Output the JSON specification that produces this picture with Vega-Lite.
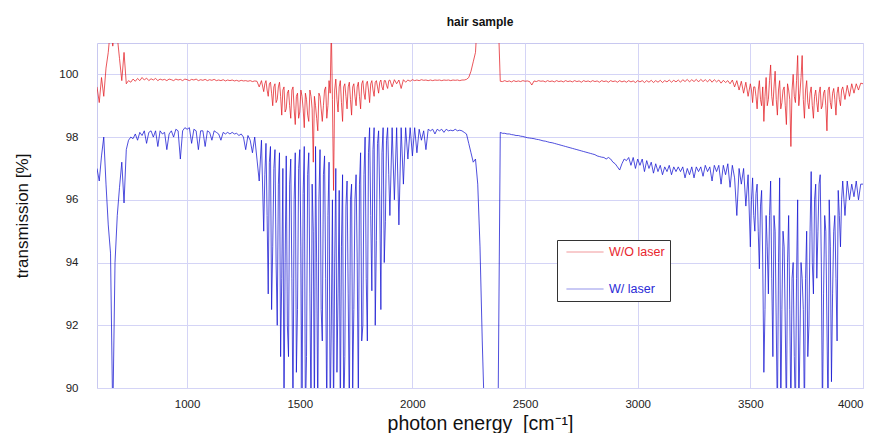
{
  "$schema": "https://vega.github.io/schema/vega-lite/v6.json",
  "autosize": {"type": "none"},
  "width": 766,
  "height": 345,
  "padding": {"left": 97, "top": 43, "right": 14, "bottom": 45},
  "background": "white",
  "title": {"text": "hair sample", "font": "Liberation Sans", "fontSize": 12, "fontWeight": "bold", "color": "#111", "anchor": "middle", "offset": 14},
  "data": {"values": [
{"x":600,"W/O laser":99.6,"W/ laser":97.0},
{"x":610,"W/O laser":99.1,"W/ laser":96.6},
{"x":620,"W/O laser":99.9,"W/ laser":97.4},
{"x":630,"W/O laser":99.3,"W/ laser":98.0},
{"x":640,"W/O laser":100.2,"W/ laser":96.5},
{"x":650,"W/O laser":100.7,"W/ laser":95.2},
{"x":660,"W/O laser":101.5,"W/ laser":94.3},
{"x":670,"W/O laser":100.9,"W/ laser":89},
{"x":680,"W/O laser":101.5,"W/ laser":94.0},
{"x":690,"W/O laser":101.2,"W/ laser":95.5},
{"x":700,"W/O laser":100.5,"W/ laser":96.4},
{"x":710,"W/O laser":99.8,"W/ laser":97.2},
{"x":720,"W/O laser":100.7,"W/ laser":95.9},
{"x":730,"W/O laser":99.7,"W/ laser":97.6},
{"x":740,"W/O laser":99.8,"W/ laser":97.9},
{"x":750,"W/O laser":99.75,"W/ laser":98.0},
{"x":760,"W/O laser":99.85,"W/ laser":97.95},
{"x":770,"W/O laser":99.78,"W/ laser":98.1},
{"x":780,"W/O laser":99.87,"W/ laser":97.9},
{"x":790,"W/O laser":99.8,"W/ laser":98.15},
{"x":800,"W/O laser":99.9,"W/ laser":98.05},
{"x":810,"W/O laser":99.82,"W/ laser":98.2},
{"x":820,"W/O laser":99.88,"W/ laser":97.8},
{"x":830,"W/O laser":99.8,"W/ laser":98.15},
{"x":840,"W/O laser":99.86,"W/ laser":98.2},
{"x":850,"W/O laser":99.82,"W/ laser":98.0},
{"x":860,"W/O laser":99.87,"W/ laser":98.2},
{"x":870,"W/O laser":99.8,"W/ laser":97.7},
{"x":880,"W/O laser":99.85,"W/ laser":98.2},
{"x":890,"W/O laser":99.82,"W/ laser":98.1},
{"x":900,"W/O laser":99.84,"W/ laser":98.15},
{"x":910,"W/O laser":99.8,"W/ laser":97.6},
{"x":920,"W/O laser":99.85,"W/ laser":98.1},
{"x":930,"W/O laser":99.83,"W/ laser":98.2},
{"x":940,"W/O laser":99.8,"W/ laser":98.0},
{"x":950,"W/O laser":99.85,"W/ laser":98.25},
{"x":960,"W/O laser":99.82,"W/ laser":98.2},
{"x":970,"W/O laser":99.84,"W/ laser":97.3},
{"x":980,"W/O laser":99.8,"W/ laser":98.2},
{"x":990,"W/O laser":99.85,"W/ laser":98.3},
{"x":1000,"W/O laser":99.83,"W/ laser":98.25},
{"x":1010,"W/O laser":99.8,"W/ laser":98.3},
{"x":1020,"W/O laser":99.84,"W/ laser":97.8},
{"x":1030,"W/O laser":99.82,"W/ laser":98.25},
{"x":1040,"W/O laser":99.85,"W/ laser":98.2},
{"x":1050,"W/O laser":99.8,"W/ laser":97.6},
{"x":1060,"W/O laser":99.83,"W/ laser":98.2},
{"x":1070,"W/O laser":99.81,"W/ laser":98.2},
{"x":1080,"W/O laser":99.84,"W/ laser":97.7},
{"x":1090,"W/O laser":99.8,"W/ laser":98.2},
{"x":1100,"W/O laser":99.83,"W/ laser":98.15},
{"x":1110,"W/O laser":99.81,"W/ laser":97.9},
{"x":1120,"W/O laser":99.84,"W/ laser":98.2},
{"x":1130,"W/O laser":99.8,"W/ laser":98.15},
{"x":1140,"W/O laser":99.82,"W/ laser":98.1},
{"x":1150,"W/O laser":99.8,"W/ laser":97.9},
{"x":1160,"W/O laser":99.83,"W/ laser":98.15},
{"x":1170,"W/O laser":99.79,"W/ laser":98.1},
{"x":1180,"W/O laser":99.82,"W/ laser":98.15},
{"x":1190,"W/O laser":99.8,"W/ laser":98.1},
{"x":1200,"W/O laser":99.82,"W/ laser":98.15},
{"x":1210,"W/O laser":99.79,"W/ laser":98.1},
{"x":1220,"W/O laser":99.81,"W/ laser":98.12},
{"x":1230,"W/O laser":99.78,"W/ laser":98.05},
{"x":1240,"W/O laser":99.81,"W/ laser":98.1},
{"x":1250,"W/O laser":99.79,"W/ laser":98.0},
{"x":1260,"W/O laser":99.8,"W/ laser":97.6},
{"x":1270,"W/O laser":99.78,"W/ laser":98.05},
{"x":1280,"W/O laser":99.8,"W/ laser":97.9},
{"x":1290,"W/O laser":99.77,"W/ laser":97.5},
{"x":1300,"W/O laser":99.79,"W/ laser":98.0},
{"x":1310,"W/O laser":99.78,"W/ laser":97.3},
{"x":1320,"W/O laser":99.6,"W/ laser":96.6},
{"x":1330,"W/O laser":99.8,"W/ laser":97.9},
{"x":1340,"W/O laser":99.45,"W/ laser":95.0},
{"x":1345,"W/O laser":99.7,"W/ laser":96.8},
{"x":1350,"W/O laser":99.8,"W/ laser":97.8},
{"x":1355,"W/O laser":99.5,"W/ laser":95.5},
{"x":1360,"W/O laser":99.3,"W/ laser":93.0},
{"x":1365,"W/O laser":99.7,"W/ laser":97.2},
{"x":1370,"W/O laser":99.75,"W/ laser":97.7},
{"x":1375,"W/O laser":99.4,"W/ laser":92.5},
{"x":1380,"W/O laser":99.0,"W/ laser":94.5},
{"x":1385,"W/O laser":99.6,"W/ laser":97.0},
{"x":1390,"W/O laser":99.7,"W/ laser":97.6},
{"x":1395,"W/O laser":99.1,"W/ laser":94.0},
{"x":1400,"W/O laser":99.2,"W/ laser":92.0},
{"x":1405,"W/O laser":99.6,"W/ laser":96.5},
{"x":1410,"W/O laser":99.75,"W/ laser":97.5},
{"x":1415,"W/O laser":99.3,"W/ laser":91.0},
{"x":1420,"W/O laser":98.7,"W/ laser":93.5},
{"x":1425,"W/O laser":99.5,"W/ laser":97.0},
{"x":1430,"W/O laser":99.6,"W/ laser":89},
{"x":1435,"W/O laser":98.8,"W/ laser":94.0},
{"x":1440,"W/O laser":98.9,"W/ laser":97.4},
{"x":1445,"W/O laser":99.4,"W/ laser":92.0},
{"x":1450,"W/O laser":99.5,"W/ laser":91.0},
{"x":1455,"W/O laser":99.0,"W/ laser":96.5},
{"x":1460,"W/O laser":98.6,"W/ laser":97.3},
{"x":1465,"W/O laser":99.5,"W/ laser":93.5},
{"x":1470,"W/O laser":99.6,"W/ laser":89},
{"x":1475,"W/O laser":98.9,"W/ laser":96.0},
{"x":1480,"W/O laser":98.4,"W/ laser":97.5},
{"x":1485,"W/O laser":99.3,"W/ laser":90.5},
{"x":1490,"W/O laser":99.4,"W/ laser":92.5},
{"x":1495,"W/O laser":98.6,"W/ laser":97.0},
{"x":1500,"W/O laser":98.8,"W/ laser":97.6},
{"x":1505,"W/O laser":99.5,"W/ laser":94.5},
{"x":1510,"W/O laser":99.3,"W/ laser":89},
{"x":1515,"W/O laser":98.9,"W/ laser":96.2},
{"x":1520,"W/O laser":98.3,"W/ laser":97.7},
{"x":1525,"W/O laser":99.4,"W/ laser":89},
{"x":1530,"W/O laser":99.2,"W/ laser":91.0},
{"x":1535,"W/O laser":98.7,"W/ laser":96.8},
{"x":1540,"W/O laser":98.5,"W/ laser":97.5},
{"x":1545,"W/O laser":99.5,"W/ laser":93.0},
{"x":1550,"W/O laser":99.3,"W/ laser":89},
{"x":1555,"W/O laser":98.9,"W/ laser":96.5},
{"x":1560,"W/O laser":97.2,"W/ laser":95.0},
{"x":1565,"W/O laser":99.3,"W/ laser":89},
{"x":1570,"W/O laser":99.0,"W/ laser":97.7},
{"x":1575,"W/O laser":98.6,"W/ laser":94.0},
{"x":1580,"W/O laser":98.2,"W/ laser":89},
{"x":1585,"W/O laser":99.4,"W/ laser":96.0},
{"x":1590,"W/O laser":99.3,"W/ laser":97.6},
{"x":1595,"W/O laser":98.9,"W/ laser":92.5},
{"x":1600,"W/O laser":98.5,"W/ laser":91.5},
{"x":1605,"W/O laser":99.0,"W/ laser":96.8},
{"x":1610,"W/O laser":99.5,"W/ laser":97.4},
{"x":1615,"W/O laser":99.6,"W/ laser":93.5},
{"x":1620,"W/O laser":98.6,"W/ laser":89},
{"x":1625,"W/O laser":99.0,"W/ laser":95.5},
{"x":1630,"W/O laser":99.8,"W/ laser":97.2},
{"x":1635,"W/O laser":99.4,"W/ laser":89},
{"x":1640,"W/O laser":101.5,"W/ laser":92.0},
{"x":1645,"W/O laser":99.2,"W/ laser":96.0},
{"x":1650,"W/O laser":96.3,"W/ laser":89},
{"x":1655,"W/O laser":99.5,"W/ laser":94.0},
{"x":1660,"W/O laser":99.85,"W/ laser":97.0},
{"x":1665,"W/O laser":99.2,"W/ laser":90.5},
{"x":1670,"W/O laser":98.8,"W/ laser":93.0},
{"x":1675,"W/O laser":99.6,"W/ laser":96.3},
{"x":1680,"W/O laser":99.8,"W/ laser":89},
{"x":1685,"W/O laser":99.1,"W/ laser":94.5},
{"x":1690,"W/O laser":98.5,"W/ laser":96.8},
{"x":1695,"W/O laser":99.6,"W/ laser":89},
{"x":1700,"W/O laser":99.7,"W/ laser":91.0},
{"x":1705,"W/O laser":99.3,"W/ laser":95.8},
{"x":1710,"W/O laser":98.9,"W/ laser":96.6},
{"x":1715,"W/O laser":99.6,"W/ laser":93.0},
{"x":1720,"W/O laser":99.75,"W/ laser":89},
{"x":1725,"W/O laser":99.2,"W/ laser":96.0},
{"x":1730,"W/O laser":98.7,"W/ laser":96.5},
{"x":1735,"W/O laser":99.6,"W/ laser":90.0},
{"x":1740,"W/O laser":99.7,"W/ laser":92.5},
{"x":1745,"W/O laser":99.3,"W/ laser":96.0},
{"x":1750,"W/O laser":99.0,"W/ laser":96.8},
{"x":1755,"W/O laser":99.6,"W/ laser":94.0},
{"x":1760,"W/O laser":99.75,"W/ laser":89.5},
{"x":1765,"W/O laser":99.3,"W/ laser":96.5},
{"x":1770,"W/O laser":98.9,"W/ laser":97.5},
{"x":1775,"W/O laser":99.7,"W/ laser":91.5},
{"x":1780,"W/O laser":99.8,"W/ laser":92.0},
{"x":1785,"W/O laser":99.4,"W/ laser":96.8},
{"x":1790,"W/O laser":99.2,"W/ laser":98.0},
{"x":1795,"W/O laser":99.7,"W/ laser":93.5},
{"x":1800,"W/O laser":99.78,"W/ laser":91.5},
{"x":1805,"W/O laser":99.5,"W/ laser":97.5},
{"x":1810,"W/O laser":99.1,"W/ laser":98.3},
{"x":1815,"W/O laser":99.7,"W/ laser":95.5},
{"x":1820,"W/O laser":99.8,"W/ laser":93.1},
{"x":1825,"W/O laser":99.5,"W/ laser":97.6},
{"x":1830,"W/O laser":99.3,"W/ laser":98.3},
{"x":1835,"W/O laser":99.75,"W/ laser":92.0},
{"x":1840,"W/O laser":99.8,"W/ laser":94.7},
{"x":1845,"W/O laser":99.6,"W/ laser":97.8},
{"x":1850,"W/O laser":99.4,"W/ laser":98.2},
{"x":1855,"W/O laser":99.75,"W/ laser":96.0},
{"x":1860,"W/O laser":99.82,"W/ laser":92.5},
{"x":1865,"W/O laser":99.6,"W/ laser":97.5},
{"x":1870,"W/O laser":99.5,"W/ laser":98.3},
{"x":1875,"W/O laser":99.8,"W/ laser":94.0},
{"x":1880,"W/O laser":99.8,"W/ laser":95.3},
{"x":1885,"W/O laser":99.65,"W/ laser":97.9},
{"x":1890,"W/O laser":99.55,"W/ laser":98.3},
{"x":1895,"W/O laser":99.8,"W/ laser":96.8},
{"x":1900,"W/O laser":99.82,"W/ laser":95.5},
{"x":1910,"W/O laser":99.6,"W/ laser":98.3},
{"x":1920,"W/O laser":99.83,"W/ laser":96.0},
{"x":1930,"W/O laser":99.7,"W/ laser":98.3},
{"x":1940,"W/O laser":99.82,"W/ laser":95.2},
{"x":1950,"W/O laser":99.55,"W/ laser":98.3},
{"x":1960,"W/O laser":99.83,"W/ laser":96.5},
{"x":1970,"W/O laser":99.75,"W/ laser":98.3},
{"x":1980,"W/O laser":99.82,"W/ laser":97.3},
{"x":1990,"W/O laser":99.78,"W/ laser":98.3},
{"x":2000,"W/O laser":99.83,"W/ laser":97.4},
{"x":2010,"W/O laser":99.8,"W/ laser":98.3},
{"x":2020,"W/O laser":99.82,"W/ laser":97.5},
{"x":2030,"W/O laser":99.8,"W/ laser":98.25},
{"x":2040,"W/O laser":99.83,"W/ laser":97.9},
{"x":2050,"W/O laser":99.81,"W/ laser":98.2},
{"x":2060,"W/O laser":99.82,"W/ laser":97.6},
{"x":2070,"W/O laser":99.8,"W/ laser":98.25},
{"x":2080,"W/O laser":99.82,"W/ laser":98.2},
{"x":2090,"W/O laser":99.8,"W/ laser":98.25},
{"x":2100,"W/O laser":99.82,"W/ laser":98.1},
{"x":2110,"W/O laser":99.81,"W/ laser":98.25},
{"x":2120,"W/O laser":99.82,"W/ laser":98.2},
{"x":2130,"W/O laser":99.8,"W/ laser":98.25},
{"x":2140,"W/O laser":99.82,"W/ laser":98.15},
{"x":2150,"W/O laser":99.81,"W/ laser":98.25},
{"x":2160,"W/O laser":99.82,"W/ laser":98.2},
{"x":2170,"W/O laser":99.8,"W/ laser":98.22},
{"x":2180,"W/O laser":99.82,"W/ laser":98.2},
{"x":2190,"W/O laser":99.81,"W/ laser":98.25},
{"x":2200,"W/O laser":99.82,"W/ laser":98.2},
{"x":2210,"W/O laser":99.8,"W/ laser":98.22},
{"x":2220,"W/O laser":99.82,"W/ laser":98.2},
{"x":2230,"W/O laser":99.82,"W/ laser":98.15},
{"x":2240,"W/O laser":99.84,"W/ laser":98.1},
{"x":2250,"W/O laser":99.9,"W/ laser":97.8},
{"x":2260,"W/O laser":100.1,"W/ laser":97.5},
{"x":2270,"W/O laser":100.4,"W/ laser":97.2},
{"x":2280,"W/O laser":100.7,"W/ laser":97.3},
{"x":2290,"W/O laser":102,"W/ laser":96.5},
{"x":2300,"W/O laser":102,"W/ laser":94.5},
{"x":2310,"W/O laser":102,"W/ laser":91.5},
{"x":2320,"W/O laser":102,"W/ laser":89},
{"x":2330,"W/O laser":102,"W/ laser":89},
{"x":2340,"W/O laser":102,"W/ laser":89},
{"x":2350,"W/O laser":102,"W/ laser":89},
{"x":2360,"W/O laser":102,"W/ laser":89},
{"x":2370,"W/O laser":102,"W/ laser":89},
{"x":2380,"W/O laser":102,"W/ laser":89},
{"x":2390,"W/O laser":99.78,"W/ laser":98.15},
{"x":2400,"W/O laser":99.77,"W/ laser":98.12},
{"x":2410,"W/O laser":99.8,"W/ laser":98.12},
{"x":2420,"W/O laser":99.77,"W/ laser":98.1},
{"x":2430,"W/O laser":99.79,"W/ laser":98.1},
{"x":2440,"W/O laser":99.76,"W/ laser":98.08},
{"x":2450,"W/O laser":99.8,"W/ laser":98.07},
{"x":2460,"W/O laser":99.77,"W/ laser":98.05},
{"x":2470,"W/O laser":99.79,"W/ laser":98.05},
{"x":2480,"W/O laser":99.77,"W/ laser":98.03},
{"x":2490,"W/O laser":99.8,"W/ laser":98.02},
{"x":2500,"W/O laser":99.78,"W/ laser":98.0},
{"x":2510,"W/O laser":99.79,"W/ laser":97.98},
{"x":2520,"W/O laser":99.77,"W/ laser":97.97},
{"x":2530,"W/O laser":99.66,"W/ laser":97.96},
{"x":2540,"W/O laser":99.79,"W/ laser":97.95},
{"x":2550,"W/O laser":99.77,"W/ laser":97.93},
{"x":2560,"W/O laser":99.8,"W/ laser":97.92},
{"x":2570,"W/O laser":99.78,"W/ laser":97.9},
{"x":2580,"W/O laser":99.79,"W/ laser":97.88},
{"x":2590,"W/O laser":99.76,"W/ laser":97.87},
{"x":2600,"W/O laser":99.8,"W/ laser":97.85},
{"x":2610,"W/O laser":99.77,"W/ laser":97.83},
{"x":2620,"W/O laser":99.79,"W/ laser":97.82},
{"x":2630,"W/O laser":99.76,"W/ laser":97.8},
{"x":2640,"W/O laser":99.8,"W/ laser":97.78},
{"x":2650,"W/O laser":99.77,"W/ laser":97.76},
{"x":2660,"W/O laser":99.79,"W/ laser":97.74},
{"x":2670,"W/O laser":99.76,"W/ laser":97.72},
{"x":2680,"W/O laser":99.8,"W/ laser":97.7},
{"x":2690,"W/O laser":99.77,"W/ laser":97.68},
{"x":2700,"W/O laser":99.79,"W/ laser":97.66},
{"x":2710,"W/O laser":99.76,"W/ laser":97.64},
{"x":2720,"W/O laser":99.8,"W/ laser":97.62},
{"x":2730,"W/O laser":99.77,"W/ laser":97.6},
{"x":2740,"W/O laser":99.79,"W/ laser":97.58},
{"x":2750,"W/O laser":99.75,"W/ laser":97.56},
{"x":2760,"W/O laser":99.8,"W/ laser":97.54},
{"x":2770,"W/O laser":99.77,"W/ laser":97.52},
{"x":2780,"W/O laser":99.79,"W/ laser":97.5},
{"x":2790,"W/O laser":99.76,"W/ laser":97.48},
{"x":2800,"W/O laser":99.8,"W/ laser":97.46},
{"x":2810,"W/O laser":99.77,"W/ laser":97.44},
{"x":2820,"W/O laser":99.79,"W/ laser":97.4},
{"x":2830,"W/O laser":99.75,"W/ laser":97.38},
{"x":2840,"W/O laser":99.8,"W/ laser":97.36},
{"x":2850,"W/O laser":99.77,"W/ laser":97.35},
{"x":2860,"W/O laser":99.79,"W/ laser":97.3},
{"x":2870,"W/O laser":99.75,"W/ laser":97.35},
{"x":2880,"W/O laser":99.8,"W/ laser":97.3},
{"x":2890,"W/O laser":99.77,"W/ laser":97.2},
{"x":2900,"W/O laser":99.79,"W/ laser":97.15},
{"x":2910,"W/O laser":99.75,"W/ laser":97.05},
{"x":2920,"W/O laser":99.8,"W/ laser":96.95},
{"x":2930,"W/O laser":99.76,"W/ laser":97.15},
{"x":2940,"W/O laser":99.79,"W/ laser":97.3},
{"x":2950,"W/O laser":99.75,"W/ laser":97.25},
{"x":2960,"W/O laser":99.8,"W/ laser":97.35},
{"x":2970,"W/O laser":99.76,"W/ laser":97.1},
{"x":2980,"W/O laser":99.79,"W/ laser":97.35},
{"x":2990,"W/O laser":99.74,"W/ laser":97.0},
{"x":3000,"W/O laser":99.8,"W/ laser":97.3},
{"x":3010,"W/O laser":99.76,"W/ laser":97.1},
{"x":3020,"W/O laser":99.8,"W/ laser":97.3},
{"x":3030,"W/O laser":99.74,"W/ laser":96.9},
{"x":3040,"W/O laser":99.8,"W/ laser":97.25},
{"x":3050,"W/O laser":99.75,"W/ laser":97.0},
{"x":3060,"W/O laser":99.81,"W/ laser":97.2},
{"x":3070,"W/O laser":99.74,"W/ laser":96.85},
{"x":3080,"W/O laser":99.8,"W/ laser":97.15},
{"x":3090,"W/O laser":99.75,"W/ laser":96.9},
{"x":3100,"W/O laser":99.81,"W/ laser":97.1},
{"x":3110,"W/O laser":99.74,"W/ laser":96.8},
{"x":3120,"W/O laser":99.8,"W/ laser":97.05},
{"x":3130,"W/O laser":99.76,"W/ laser":96.9},
{"x":3140,"W/O laser":99.82,"W/ laser":97.1},
{"x":3150,"W/O laser":99.75,"W/ laser":96.8},
{"x":3160,"W/O laser":99.81,"W/ laser":97.05},
{"x":3170,"W/O laser":99.76,"W/ laser":96.9},
{"x":3180,"W/O laser":99.82,"W/ laser":97.05},
{"x":3190,"W/O laser":99.75,"W/ laser":96.9},
{"x":3200,"W/O laser":99.83,"W/ laser":97.05},
{"x":3210,"W/O laser":99.77,"W/ laser":96.7},
{"x":3220,"W/O laser":99.84,"W/ laser":97.0},
{"x":3230,"W/O laser":99.76,"W/ laser":96.8},
{"x":3240,"W/O laser":99.83,"W/ laser":97.05},
{"x":3250,"W/O laser":99.77,"W/ laser":96.7},
{"x":3260,"W/O laser":99.84,"W/ laser":97.05},
{"x":3270,"W/O laser":99.76,"W/ laser":96.9},
{"x":3280,"W/O laser":99.84,"W/ laser":97.05},
{"x":3290,"W/O laser":99.77,"W/ laser":96.75},
{"x":3300,"W/O laser":99.83,"W/ laser":97.1},
{"x":3310,"W/O laser":99.76,"W/ laser":96.9},
{"x":3320,"W/O laser":99.84,"W/ laser":97.05},
{"x":3330,"W/O laser":99.75,"W/ laser":96.6},
{"x":3340,"W/O laser":99.83,"W/ laser":97.1},
{"x":3350,"W/O laser":99.76,"W/ laser":96.9},
{"x":3360,"W/O laser":99.82,"W/ laser":97.1},
{"x":3370,"W/O laser":99.72,"W/ laser":96.5},
{"x":3380,"W/O laser":99.81,"W/ laser":97.1},
{"x":3390,"W/O laser":99.74,"W/ laser":96.8},
{"x":3400,"W/O laser":99.8,"W/ laser":97.15},
{"x":3410,"W/O laser":99.7,"W/ laser":96.4},
{"x":3420,"W/O laser":99.82,"W/ laser":97.1},
{"x":3430,"W/O laser":99.6,"W/ laser":96.7},
{"x":3440,"W/O laser":99.8,"W/ laser":95.5},
{"x":3450,"W/O laser":99.5,"W/ laser":97.0},
{"x":3460,"W/O laser":99.78,"W/ laser":96.5},
{"x":3470,"W/O laser":99.4,"W/ laser":97.0},
{"x":3480,"W/O laser":99.75,"W/ laser":95.8},
{"x":3490,"W/O laser":99.3,"W/ laser":96.8},
{"x":3500,"W/O laser":99.7,"W/ laser":94.5},
{"x":3505,"W/O laser":99.5,"W/ laser":96.0},
{"x":3510,"W/O laser":99.1,"W/ laser":96.7},
{"x":3515,"W/O laser":99.6,"W/ laser":95.5},
{"x":3520,"W/O laser":99.6,"W/ laser":95.0},
{"x":3525,"W/O laser":99.3,"W/ laser":96.2},
{"x":3530,"W/O laser":98.9,"W/ laser":96.5},
{"x":3535,"W/O laser":99.5,"W/ laser":95.0},
{"x":3540,"W/O laser":99.8,"W/ laser":93.8},
{"x":3545,"W/O laser":99.2,"W/ laser":95.8},
{"x":3550,"W/O laser":99.0,"W/ laser":96.3},
{"x":3555,"W/O laser":99.6,"W/ laser":94.0},
{"x":3560,"W/O laser":98.5,"W/ laser":90.5},
{"x":3565,"W/O laser":99.3,"W/ laser":92.5},
{"x":3570,"W/O laser":99.9,"W/ laser":95.5},
{"x":3575,"W/O laser":99.0,"W/ laser":94.5},
{"x":3580,"W/O laser":99.2,"W/ laser":93.0},
{"x":3585,"W/O laser":99.8,"W/ laser":95.5},
{"x":3590,"W/O laser":100.3,"W/ laser":96.6},
{"x":3595,"W/O laser":99.3,"W/ laser":93.5},
{"x":3600,"W/O laser":99.0,"W/ laser":91.0},
{"x":3605,"W/O laser":99.6,"W/ laser":95.5},
{"x":3610,"W/O laser":100.1,"W/ laser":95.0},
{"x":3615,"W/O laser":99.2,"W/ laser":92.0},
{"x":3620,"W/O laser":98.7,"W/ laser":89},
{"x":3625,"W/O laser":99.5,"W/ laser":94.0},
{"x":3630,"W/O laser":99.8,"W/ laser":96.7},
{"x":3635,"W/O laser":98.9,"W/ laser":89},
{"x":3640,"W/O laser":99.1,"W/ laser":92.5},
{"x":3645,"W/O laser":99.5,"W/ laser":95.0},
{"x":3650,"W/O laser":99.6,"W/ laser":94.5},
{"x":3655,"W/O laser":99.0,"W/ laser":92.0},
{"x":3660,"W/O laser":98.4,"W/ laser":89},
{"x":3665,"W/O laser":99.7,"W/ laser":94.0},
{"x":3670,"W/O laser":99.5,"W/ laser":95.5},
{"x":3675,"W/O laser":99.2,"W/ laser":92.5},
{"x":3680,"W/O laser":97.7,"W/ laser":89},
{"x":3685,"W/O laser":99.5,"W/ laser":93.5},
{"x":3690,"W/O laser":100.0,"W/ laser":94.0},
{"x":3695,"W/O laser":99.3,"W/ laser":91.0},
{"x":3700,"W/O laser":99.1,"W/ laser":89},
{"x":3705,"W/O laser":99.8,"W/ laser":93.5},
{"x":3710,"W/O laser":100.6,"W/ laser":96.0},
{"x":3715,"W/O laser":99.0,"W/ laser":89},
{"x":3720,"W/O laser":99.4,"W/ laser":91.5},
{"x":3725,"W/O laser":99.9,"W/ laser":94.0},
{"x":3730,"W/O laser":100.6,"W/ laser":93.5},
{"x":3735,"W/O laser":99.2,"W/ laser":92.5},
{"x":3740,"W/O laser":98.6,"W/ laser":89},
{"x":3745,"W/O laser":99.5,"W/ laser":93.5},
{"x":3750,"W/O laser":99.8,"W/ laser":95.0},
{"x":3755,"W/O laser":99.1,"W/ laser":91.0},
{"x":3760,"W/O laser":98.9,"W/ laser":92.0},
{"x":3765,"W/O laser":99.4,"W/ laser":95.0},
{"x":3770,"W/O laser":99.6,"W/ laser":96.9},
{"x":3775,"W/O laser":99.0,"W/ laser":94.0},
{"x":3780,"W/O laser":98.6,"W/ laser":93.0},
{"x":3785,"W/O laser":99.3,"W/ laser":96.0},
{"x":3790,"W/O laser":99.5,"W/ laser":96.5},
{"x":3795,"W/O laser":99.1,"W/ laser":93.5},
{"x":3800,"W/O laser":98.8,"W/ laser":95.0},
{"x":3805,"W/O laser":99.4,"W/ laser":96.5},
{"x":3810,"W/O laser":99.6,"W/ laser":96.8},
{"x":3815,"W/O laser":98.9,"W/ laser":94.0},
{"x":3820,"W/O laser":99.0,"W/ laser":89},
{"x":3825,"W/O laser":99.4,"W/ laser":93.0},
{"x":3830,"W/O laser":99.5,"W/ laser":95.5},
{"x":3835,"W/O laser":99.0,"W/ laser":95.0},
{"x":3840,"W/O laser":98.2,"W/ laser":92.0},
{"x":3845,"W/O laser":99.5,"W/ laser":89},
{"x":3850,"W/O laser":99.6,"W/ laser":96.0},
{"x":3855,"W/O laser":99.1,"W/ laser":94.5},
{"x":3860,"W/O laser":98.9,"W/ laser":90.2},
{"x":3865,"W/O laser":99.4,"W/ laser":93.0},
{"x":3870,"W/O laser":99.55,"W/ laser":95.0},
{"x":3875,"W/O laser":99.2,"W/ laser":95.5},
{"x":3880,"W/O laser":98.7,"W/ laser":93.5},
{"x":3885,"W/O laser":99.4,"W/ laser":91.5},
{"x":3890,"W/O laser":99.6,"W/ laser":96.3},
{"x":3895,"W/O laser":99.2,"W/ laser":95.5},
{"x":3900,"W/O laser":99.0,"W/ laser":94.5},
{"x":3905,"W/O laser":99.5,"W/ laser":96.0},
{"x":3910,"W/O laser":99.6,"W/ laser":96.6},
{"x":3920,"W/O laser":99.2,"W/ laser":95.5},
{"x":3930,"W/O laser":99.65,"W/ laser":96.6},
{"x":3940,"W/O laser":99.3,"W/ laser":96.0},
{"x":3950,"W/O laser":99.7,"W/ laser":96.5},
{"x":3960,"W/O laser":99.4,"W/ laser":96.1},
{"x":3970,"W/O laser":99.7,"W/ laser":96.6},
{"x":3980,"W/O laser":99.5,"W/ laser":96.0},
{"x":3990,"W/O laser":99.72,"W/ laser":96.5},
{"x":4000,"W/O laser":99.7,"W/ laser":96.5}
  ]},
  "transform": [{"fold": ["W/O laser", "W/ laser"], "as": ["series", "value"]}],
  "mark": {"type": "line", "strokeWidth": 0.75, "clip": true, "interpolate": "linear"},
  "encoding": {
    "x": {"field": "x", "type": "quantitative", "scale": {"domain": [600, 4000], "nice": false, "zero": false},
      "axis": {"values": [1000, 1500, 2000, 2500, 3000, 3500, 4000], "title": "photon energy \u00a0[cm⁻¹]", "titleFontSize": 19.5, "labelPadding": 10, "titlePadding": 5, "format": "d"}},
    "y": {"field": "value", "type": "quantitative", "scale": {"domain": [90, 101], "nice": false, "zero": false},
      "axis": {"values": [90, 92, 94, 96, 98, 100], "title": "transmission [%]", "titleFontSize": 17, "labelPadding": 19, "titlePadding": 27}},
    "color": {"field": "series", "type": "nominal",
      "scale": {"domain": ["W/O laser", "W/ laser"], "range": ["#e31e24", "#1414d2"]},
      "legend": {"title": null, "orient": "none", "legendX": 460, "legendY": 197, "strokeColor": "#333333", "fillColor": "white", "padding": 5,
        "symbolType": "stroke", "symbolSize": 100, "symbolStrokeWidth": 1, "symbolOpacity": 0.45, "labelFont": "Liberation Sans", "labelFontSize": 12.5, "labelOffset": 5, "rowPadding": 23, "clipHeight": 14,
        "encode": {
          "symbols": {"update": {"size": {"value": 1380}, "x": {"value": 23}}},
          "labels": {"update": {"x": {"value": 47}, "fill": {"signal": "datum.value === 'W/O laser' ? '#e8262e' : '#2a2ad6'"}}}}}
    },
    "order": {"field": "x", "type": "quantitative"}
  },
  "config": {
    "view": {"stroke": "#c8c8f0", "strokeWidth": 1},
    "axis": {"grid": true, "gridColor": "#d4d4f6", "gridWidth": 1, "domain": false, "ticks": false,
      "labelFont": "Liberation Sans", "labelFontSize": 11.5, "labelColor": "#222222",
      "titleFont": "Liberation Sans", "titleFontWeight": "normal", "titleColor": "#111111"}
  }
}
